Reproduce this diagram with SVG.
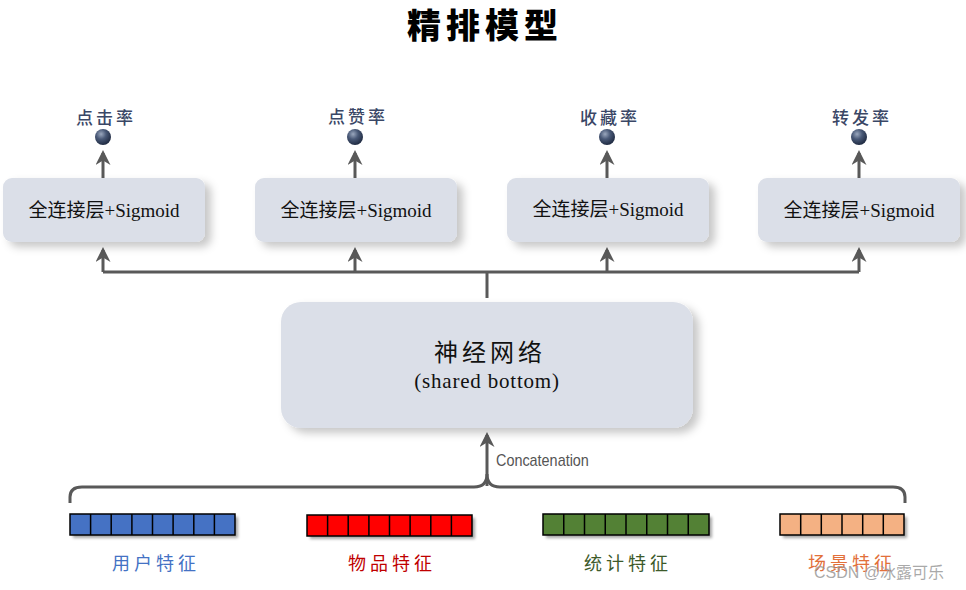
<svg xmlns="http://www.w3.org/2000/svg" width="966" height="590" viewBox="0 0 966 590">
<defs>
<style>
.box{fill:#dbdfe8;}
.lbl{font-family:"Liberation Serif","Noto Sans CJK SC",serif;font-size:19px;fill:#111;text-anchor:middle;}
.rate{font-family:"Noto Sans CJK SC",sans-serif;font-size:17px;font-weight:500;fill:#3a4766;text-anchor:middle;letter-spacing:3px;}
.conn{stroke:#595959;stroke-width:3;fill:none;}
.feat{font-family:"Noto Sans CJK SC",sans-serif;font-size:18px;text-anchor:middle;letter-spacing:4px;}
.grid{stroke:#000;stroke-width:1.5;fill:none;}
</style>
<radialGradient id="ball" cx="0.38" cy="0.32" r="0.7">
<stop offset="0" stop-color="#9aa7bd"/>
<stop offset="0.45" stop-color="#4a5a78"/>
<stop offset="1" stop-color="#1e2940"/>
</radialGradient>
<filter id="sh" x="-10%" y="-10%" width="130%" height="140%">
<feDropShadow dx="6" dy="5" stdDeviation="4" flood-color="#000" flood-opacity="0.22"/>
</filter>
<filter id="sh2" x="-10%" y="-30%" width="120%" height="170%">
<feDropShadow dx="3" dy="3" stdDeviation="1.5" flood-color="#000" flood-opacity="0.35"/>
</filter>
<marker id="ah" viewBox="0 0 10 10" refX="8" refY="5" markerWidth="5" markerHeight="5" orient="auto" markerUnits="strokeWidth">
<path d="M0,0 L10,5 L0,10 L3,5 Z" fill="#595959"/>
</marker>
</defs>
<rect width="966" height="590" fill="#fff"/>
<text x="485" y="38" text-anchor="middle" font-family="Noto Sans CJK SC, sans-serif" font-weight="900" font-size="34" fill="#000" letter-spacing="5">精排模型</text>

<g id="connectors">
<path class="conn" d="M103,272 H859"/>
<path class="conn" d="M487,272 V298"/>
<path class="conn" marker-end="url(#ah)" d="M103,272 V250"/>
<path class="conn" marker-end="url(#ah)" d="M355,272 V250"/>
<path class="conn" marker-end="url(#ah)" d="M607,272 V250"/>
<path class="conn" marker-end="url(#ah)" d="M859,272 V250"/>
<path class="conn" marker-end="url(#ah)" d="M103,178 V153"/>
<path class="conn" marker-end="url(#ah)" d="M355,178 V153"/>
<path class="conn" marker-end="url(#ah)" d="M607,178 V153"/>
<path class="conn" marker-end="url(#ah)" d="M859,178 V153"/>
<path class="conn" marker-end="url(#ah)" d="M487,486 V435"/>
<path class="conn" d="M70,503 V497 Q70,487 82,487 H474 Q487,487 487,474 Q487,487 500,487 H893 Q905,487 905,497 V503"/>
<text x="496" y="466" font-family="Liberation Sans Narrow, Liberation Sans, sans-serif" font-size="16" fill="#555" transform="translate(496 0) scale(0.9 1) translate(-496 0)">Concatenation</text>
</g>

<g id="fc1">
<rect class="box" x="3" y="178" width="202" height="64" rx="9" filter="url(#sh)"/>
<text class="lbl" x="104" y="217">全连接层+Sigmoid</text>
</g>
<g id="fc2">
<rect class="box" x="255" y="178" width="202" height="64" rx="9" filter="url(#sh)"/>
<text class="lbl" x="356" y="217">全连接层+Sigmoid</text>
</g>
<g id="fc3">
<rect class="box" x="507" y="178" width="202" height="64" rx="9" filter="url(#sh)"/>
<text class="lbl" x="608" y="216">全连接层+Sigmoid</text>
</g>
<g id="fc4">
<rect class="box" x="758" y="178" width="202" height="64" rx="9" filter="url(#sh)"/>
<text class="lbl" x="859" y="217">全连接层+Sigmoid</text>
</g>

<g id="out1"><circle cx="103" cy="137" r="8" fill="url(#ball)"/><text class="rate" x="106" y="124">点击率</text></g>
<g id="out2"><circle cx="355" cy="137" r="8" fill="url(#ball)"/><text class="rate" x="358" y="123">点赞率</text></g>
<g id="out3"><circle cx="607" cy="137" r="8" fill="url(#ball)"/><text class="rate" x="610" y="124">收藏率</text></g>
<g id="out4"><circle cx="859" cy="137" r="8" fill="url(#ball)"/><text class="rate" x="862" y="124">转发率</text></g>

<g id="shared">
<rect class="box" x="281" y="302" width="412" height="126" rx="20" filter="url(#sh)"/>
<text x="490" y="361" text-anchor="middle" font-family="Noto Sans CJK SC, sans-serif" font-size="24" fill="#111" letter-spacing="4">神经网络</text>
<text x="487" y="388" text-anchor="middle" font-family="Liberation Serif, serif" font-size="21" fill="#111" letter-spacing="0.8">(shared bottom)</text>
</g>

<g id="user">
<rect x="70" y="514" width="165" height="21" fill="#4472c4" filter="url(#sh2)"/>
<path class="grid" d="M70,514 H235 V535 H70 Z M90.6,514 V535 M111.2,514 V535 M131.9,514 V535 M152.5,514 V535 M173.1,514 V535 M193.8,514 V535 M214.4,514 V535"/>
<text class="feat" x="156" y="570" fill="#4472c4">用户特征</text>
</g>
<g id="item">
<rect x="307" y="515" width="165" height="21" fill="#ff0000" filter="url(#sh2)"/>
<path class="grid" d="M307,515 H472 V536 H307 Z M327.6,515 V536 M348.2,515 V536 M368.9,515 V536 M389.5,515 V536 M410.1,515 V536 M430.8,515 V536 M451.4,515 V536"/>
<text class="feat" x="392" y="570" fill="#c00000">物品特征</text>
</g>
<g id="stat">
<rect x="543" y="514" width="166" height="21" fill="#538135" filter="url(#sh2)"/>
<path class="grid" d="M543,514 H709 V535 H543 Z M563.75,514 V535 M584.5,514 V535 M605.25,514 V535 M626,514 V535 M646.75,514 V535 M667.5,514 V535 M688.25,514 V535"/>
<text class="feat" x="628" y="570" fill="#3d5a2a">统计特征</text>
</g>
<g id="scene">
<rect x="780" y="514" width="124" height="21" fill="#f4b183" filter="url(#sh2)"/>
<path class="grid" d="M780,514 H904 V535 H780 Z M800.7,514 V535 M821.3,514 V535 M842,514 V535 M862.7,514 V535 M883.3,514 V535"/>
<text class="feat" x="852" y="570" fill="#e2703a">场景特征</text>
</g>
<text x="814" y="578" font-family="Liberation Sans, Noto Sans CJK SC, sans-serif" font-size="16" fill="#9a9a9a" fill-opacity="0.85">CSDN @冰露可乐</text>
</svg>
